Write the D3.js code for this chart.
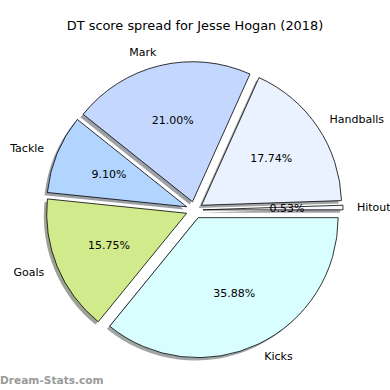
<!DOCTYPE html>
<html><head><meta charset="utf-8">
<script src="https://cdn.jsdelivr.net/npm/d3@7"></script>
<style>body{margin:0;background:#fff}svg{display:block}text{font-family:"DejaVu Sans",sans-serif}</style>
</head><body>
<svg id="c" width="390" height="390"></svg>
<script>
const categories = ["Hitout","Handballs","Mark","Tackle","Goals","Kicks"];
const values = [0.53,17.74,21.00,9.10,15.75,35.88];
const pctLabels = ["0.53%","17.74%","21.00%","9.10%","15.75%","35.88%"];
const colors = ["#f6f9ff","#eaf1ff","#c4d8ff","#b2d5ff","#d0ea8c","#d9feff"];
const title = "DT score spread for Jesse Hogan (2018)";

const svg = d3.select("#c");
const cx = 194.5, cy = 210, r = 140, ex = 8.5, sh = 2.8;

svg.append("text").attr("x",195).attr("y",25.5).attr("text-anchor","middle")
  .attr("dominant-baseline","central").attr("font-size",12.9).attr("fill","#000").text(title);

const pie = d3.pie().sort(null).value(d=>d).startAngle(Math.PI/2).endAngle(Math.PI/2-2*Math.PI);
const arcs = pie(values);
const arc = d3.arc().innerRadius(0).outerRadius(r);

const g = svg.append("g");
arcs.forEach((a,i)=>{
  const m = (a.startAngle+a.endAngle)/2;
  a.ox = cx + ex*Math.sin(m); a.oy = cy - ex*Math.cos(m); a.m = m;
});
arcs.forEach((a,i)=>{
  const c = d3.rgb(colors[i]);
  g.append("path").attr("d",arc(a))
   .attr("transform",`translate(${a.ox-sh},${a.oy+sh})`)
   .attr("fill",d3.rgb(c.r*0.3,c.g*0.3,c.b*0.3)).attr("fill-opacity",0.5);
});
arcs.forEach((a,i)=>{
  g.append("path").attr("d",arc(a))
   .attr("transform",`translate(${a.ox},${a.oy})`)
   .attr("fill",colors[i]).attr("stroke","#000").attr("stroke-width",0.8).attr("stroke-linejoin","round");
});
arcs.forEach((a,i)=>{
  const s = Math.sin(a.m), c = Math.cos(a.m);
  svg.append("text").attr("x",a.ox+1.1*r*s).attr("y",a.oy-1.1*r*c)
    .attr("text-anchor", s>=0?"start":"end").attr("dominant-baseline","central")
    .attr("font-size",11).attr("fill","#000").text(categories[i]);
  svg.append("text").attr("x",a.ox+0.6*r*s).attr("y",a.oy-0.6*r*c)
    .attr("text-anchor","middle").attr("dominant-baseline","central")
    .attr("font-size",11).attr("fill","#000").text(pctLabels[i]);
});
svg.append("text").attr("x",0).attr("y",380).attr("dominant-baseline","central")
  .attr("font-size",10.6).attr("font-weight","bold").attr("fill","#9a9a9a").text("Dream-Stats.com");
</script>
</body></html>
